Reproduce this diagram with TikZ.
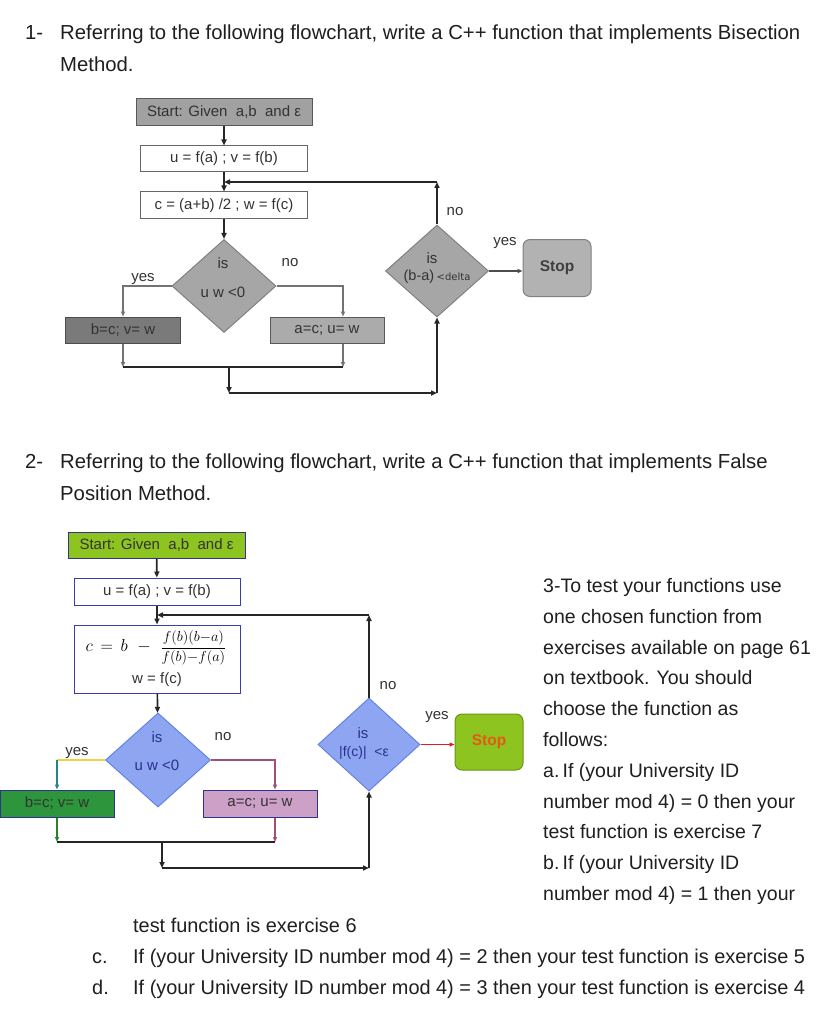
\documentclass[tikz,border=0pt]{standalone}
\usepackage{fontspec}
\setmainfont{Liberation Sans}
\newfontfamily\smallfont{DejaVu Sans}
\usetikzlibrary{shapes.geometric,arrows.meta}
\definecolor{limeA}{RGB}{141,196,31}
\definecolor{navyA}{RGB}{50,50,140}
\definecolor{blueB}{RGB}{60,60,175}
\definecolor{diaF}{RGB}{142,166,242}
\definecolor{diaB}{RGB}{100,130,230}
\definecolor{greenF}{RGB}{45,150,60}
\definecolor{mauveF}{RGB}{205,160,200}
\definecolor{stopB}{RGB}{105,150,20}
\definecolor{stopT}{RGB}{228,90,20}
\definecolor{yelL}{RGB}{240,210,70}
\definecolor{tealL}{RGB}{40,130,140}
\definecolor{mauveL}{RGB}{160,80,120}
\definecolor{greenL}{RGB}{40,130,40}
\definecolor{redL}{RGB}{220,30,30}
\definecolor{diaT}{RGB}{40,50,140}
\tikzset{
  fc/.style={font=\fontsize{15}{17}\selectfont, text=black!80, inner sep=0pt, line width=1pt},
  dia/.style={diamond, inner sep=0pt, line width=1pt},
  tip/.style={-{Triangle[length=6pt,width=5pt]}},
  stip/.style={-{Triangle[length=5pt,width=4pt]}},
  mainln/.style={line width=1.7pt, black!85},
  thinln/.style={line width=1.1pt, black!55},
  lbl/.style={font=\fontsize{15}{17}\selectfont, text=black!80, inner sep=0pt},
  body/.style={font=\fontsize{19.5}{22}\selectfont, text=black!88, anchor=base west, inner sep=0pt},
  bodyw/.style={font=\fontsize{19.9}{22}\selectfont, text=black!88, anchor=base west, inner sep=0pt},
  head/.style={font=\fontsize{20.3}{24}\selectfont, text=black!88, anchor=base west, inner sep=0pt},
}
\begin{document}
\begin{tikzpicture}[x=1pt,y=-1pt]
\useasboundingbox (0,0) rectangle (828,1024);
\fill[white] (0,0) rectangle (828,1024);

% ---------- header 1 ----------
\node[head] (h1n) at (25,40) {1-};
\node[head] (h1a) at (60,40) {Referring to the following flowchart, write a C++ function that implements Bisection};
\node[head] (h1b) at (60,72) {Method.};

% ---------- flowchart 1 ----------
\node[fc, draw=black!65, fill=black!37, minimum width=176pt, minimum height=27pt] (s1) at (224,112.5) {Start: Given\ \ a,b\ \ and ε};
\node[fc, draw=black!60, fill=white, minimum width=167pt, minimum height=26pt] (u1) at (224,159) {u = f(a) ; v = f(b)};
\node[fc, draw=black!60, fill=white, minimum width=167pt, minimum height=27pt] (c1) at (224,205.5) {c = (a+b) /2 ; w = f(c)};
\node[dia, draw=black!50, fill=black!35, minimum width=104pt, minimum height=93pt] (d1) at (224,286) {};
\node[lbl] (d1a) at (223,263) {is};
\node[lbl] (d1b) at (223,292) {u w <0};
\node[fc, draw=black!70, fill=black!52, minimum width=115pt, minimum height=26pt] (b1) at (123,330) {b=c; v= w};
\node[fc, draw=black!65, fill=black!33, minimum width=114pt, minimum height=26pt] (a1) at (327,330) {a=c; u= w};
\node[dia, draw=black!50, fill=black!35, minimum width=103pt, minimum height=92pt] (d2) at (437,271) {};
\node[lbl] (d2a) at (432,258) {is};
\node[lbl, font=\fontsize{14.5}{16}\selectfont] (d2b) at (437,277) {(b-a)\,{\smallfont\fontsize{10}{12}\selectfont <delta}};
\node[draw=black!50, fill=black!30, rounded corners=7pt, line width=1pt, minimum width=68pt, minimum height=57pt, font=\fontsize{15.5}{17}\selectfont\bfseries, text=black!75] (st1) at (557,268) {Stop};

\coordinate (j1) at (224,182);
\coordinate (n2) at (437,182);
\coordinate (ml1) at (123,367);
\coordinate (mr1) at (343,367);
\coordinate (m1) at (229,367);
\coordinate (m1b) at (229,393);
\coordinate (k1) at (437,393);

\draw[mainln, tip] (s1) -- (u1);
\draw[mainln, tip] (u1) -- (c1);
\draw[mainln, tip] (c1) -- (d1);
\draw[thinln, stip] (d1.west) -| (b1.north);
\draw[thinln, stip] (d1.east) -| ([xshift=16pt]a1.north);
\draw[thinln, stip] (b1.south) -- (ml1);
\draw[thinln, stip] ([xshift=16pt]a1.south) -- (mr1);
\draw[mainln] (ml1) -- (mr1);
\draw[mainln, tip] (m1) -- (m1b);
\draw[mainln, tip] (m1b) -- (k1);
\draw[mainln, tip] (k1) -- (d2.south);
\draw[mainln, tip] (d2.north) -- (n2);
\draw[mainln, tip] (n2) -- (j1);
\draw[line width=1.3pt, black!70, stip] (d2.east) -- (d2.east -| st1.west);

\node[lbl] (y1) at (143,279) {yes};
\node[lbl] (no1) at (290,263) {no};
\node[lbl] (no2) at (455,212) {no};
\node[lbl] (y2) at (505,243) {yes};

% ---------- header 2 ----------
\node[head] (h2n) at (25,468) {2-};
\node[head] (h2a) at (60,468) {Referring to the following flowchart, write a C++ function that implements False};
\node[head] (h2b) at (60,500) {Position Method.};

% ---------- flowchart 2 ----------
\node[fc, draw=navyA, fill=limeA, minimum width=177pt, minimum height=26pt] (s2) at (156.5,545) {Start: Given\ \ a,b\ \ and ε};
\node[fc, draw=blueB, fill=white, minimum width=166pt, minimum height=27pt] (u2) at (157,591.5) {u = f(a) ; v = f(b)};
\node[fc, draw=blueB, fill=white, minimum width=166pt, minimum height=68pt] (c2) at (157,659) {};
\node[inner sep=0pt] (c2f) at (156,648) {{\fontsize{18}{20}\selectfont$c\,=\,b\;\;-\;\;$}{\fontsize{14.5}{16}\selectfont$\displaystyle\frac{f(b)(b{-}a)}{f(b){-}f(a)}$}};
\node[lbl] (c2w) at (157,680) {w = f(c)};
\node[dia, draw=diaB, fill=diaF, minimum width=105pt, minimum height=94pt] (d3) at (158,760) {};
\node[lbl, text=diaT] (d3a) at (157,737) {is};
\node[lbl, text=diaT] (d3b) at (157,765) {u w <0};
\node[fc, draw=navyA, fill=greenF, minimum width=114pt, minimum height=27pt] (b2) at (57,803.5) {b=c; v= w};
\node[fc, draw=navyA, fill=mauveF, minimum width=114pt, minimum height=27pt] (a2) at (260,803.5) {a=c; u= w};
\node[dia, draw=diaB, fill=diaF, minimum width=102pt, minimum height=93pt] (d4) at (369,744.5) {};
\node[lbl, text=diaT] (d4a) at (363,733) {is};
\node[lbl, text=diaT, font=\fontsize{14}{16}\selectfont] (d4b) at (364,753) {|f(c)|\ \ <ε};
\node[draw=stopB, fill=limeA, rounded corners=7pt, line width=1pt, minimum width=68pt, minimum height=56pt, font=\fontsize{15.5}{17}\selectfont\bfseries, text=stopT] (st2) at (489,742) {Stop};

\coordinate (j2) at (157,615);
\coordinate (n4) at (369,615);
\coordinate (y3c) at (57,760);
\coordinate (ml2) at (57,842);
\coordinate (mr2) at (275,842);
\coordinate (m2) at (162,842);
\coordinate (m2b) at (162,868);
\coordinate (k2) at (369,868);

\draw[mainln, tip] (s2) -- (u2);
\draw[mainln, tip] (u2) -- (c2);
\draw[mainln, tip] (c2) -- (d3);
\draw[line width=1.2pt, yelL] (d3.west) -- (y3c);
\draw[line width=1.2pt, tealL, stip] (y3c) -- (b2.north);
\draw[line width=1.2pt, mauveL, stip] (d3.east) -| ([xshift=15pt]a2.north);
\draw[line width=1.2pt, greenL, stip] (b2.south) -- (ml2);
\draw[line width=1.2pt, mauveL, stip] ([xshift=15pt]a2.south) -- (mr2);
\draw[mainln] (ml2) -- (mr2);
\draw[mainln, tip] (m2) -- (m2b);
\draw[mainln, tip] (m2b) -- (k2);
\draw[mainln, tip] (k2) -- (d4.south);
\draw[mainln, tip] (d4.north) -- (n4);
\draw[mainln, tip] (n4) -- (j2);
\draw[line width=1.5pt, redL, stip] (d4.east) -- (d4.east -| st2.west);

\node[lbl] (y3) at (77,753) {yes};
\node[lbl] (no3) at (223,737) {no};
\node[lbl] (no4) at (388,686) {no};
\node[lbl] (y4) at (437,717) {yes};

% ---------- right column text ----------
\node[body] (t0) at (543,592.5) {3-To test your functions use};
\node[body] (t1) at (543,623.3) {one chosen function from};
\node[body] (t2) at (543,654.1) {exercises available on page 61};
\node[body] (t3) at (543,684.9) {on textbook. You should};
\node[body] (t4) at (543,715.7) {choose the function as};
\node[body] (t5) at (543,746.5) {follows:};
\node[body] (t6) at (543,777.3) {a.\,If (your University ID};
\node[body] (t7) at (543,808.1) {number mod 4) = 0 then your};
\node[body] (t8) at (543,838.9) {test function is exercise 7};
\node[body] (t9) at (543,869.7) {b.\,If (your University ID};
\node[body] (t10) at (543,900.5) {number mod 4) = 1 then your};
\node[bodyw] (t11) at (133,932.5) {test function is exercise 6};
\node[bodyw] (t12n) at (92,963) {c.};
\node[bodyw] (t12) at (133,963) {If (your University ID number mod 4) = 2 then your test function is exercise 5};
\node[bodyw] (t13n) at (92,994) {d.};
\node[bodyw] (t13) at (133,994) {If (your University ID number mod 4) = 3 then your test function is exercise 4};
\end{tikzpicture}
\end{document}
